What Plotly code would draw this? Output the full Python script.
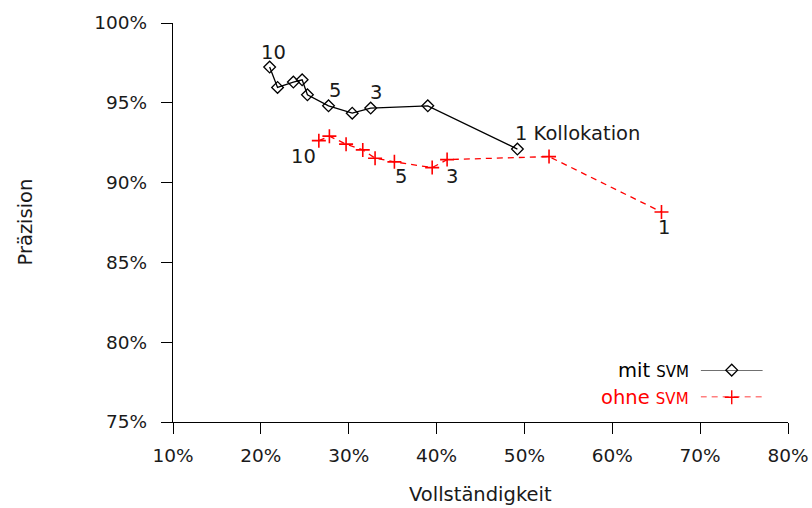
import plotly.graph_objects as go

# Vollständigkeit (recall, %) and Präzision (precision, %) per threshold 10..1
mit_svm_recall = [21.0, 21.9, 23.7, 24.7, 25.3, 27.7, 30.4, 32.5, 39.0, 49.2]
mit_svm_precision = [97.24, 95.96, 96.30, 96.44, 95.50, 94.81, 94.35, 94.67, 94.81, 92.10]

ohne_svm_recall = [26.6, 27.8, 29.7, 31.6, 33.0, 35.2, 39.5, 41.2, 52.8, 65.6]
ohne_svm_precision = [92.63, 92.91, 92.41, 92.05, 91.53, 91.30, 90.94, 91.44, 91.63, 88.16]

# point labels: (index into series, text)
mit_svm_labels = [(0, "10"), (5, "5"), (7, "3"), (9, "1 Kollokation")]
ohne_svm_labels = [(0, "10"), (5, "5"), (7, "3"), (9, "1")]

x_ticks = [10, 20, 30, 40, 50, 60, 70, 80]
y_ticks = [75, 80, 85, 90, 95, 100]

FONT = "DejaVu Sans"
FS_TICK = 18.5
FS = 19.5
TXT = "#1a1a1a"
RED = "#ff0000"
SVM = '<span style="font-size:15px">SVM</span>'

fig = go.Figure()

fig.add_trace(go.Scatter(
    x=mit_svm_recall, y=mit_svm_precision, mode="lines+markers",
    line=dict(color="black", width=1.3),
    marker=dict(symbol="diamond-open", size=9, color="black", line=dict(width=1.3)),
    showlegend=False, cliponaxis=False,
))
fig.add_trace(go.Scatter(
    x=ohne_svm_recall, y=ohne_svm_precision, mode="lines+markers",
    line=dict(color=RED, width=1.3, dash="6px,5px"),
    marker=dict(symbol="cross-thin", size=10, color=RED, line=dict(width=1.6, color=RED)),
    showlegend=False, cliponaxis=False,
))

annotations = []
# labels above the black series
black_offsets = {0: (4, 15, "center"), 5: (6, 15, "center"), 7: (5, 16, "center"), 9: (-4, 16, "left")}
for i, t in mit_svm_labels:
    dx, dy, anchor = black_offsets[i]
    annotations.append(dict(
        x=mit_svm_recall[i], y=mit_svm_precision[i], xref="x", yref="y", text=t,
        showarrow=False, xanchor=anchor, yanchor="middle", xshift=dx, yshift=dy,
        font=dict(family=FONT, size=FS, color=TXT),
    ))
# labels below the red series
red_offsets = {0: (-15, -16), 5: (7, -15), 7: (5, -17), 9: (3, -16)}
for i, t in ohne_svm_labels:
    dx, dy = red_offsets[i]
    annotations.append(dict(
        x=ohne_svm_recall[i], y=ohne_svm_precision[i], xref="x", yref="y", text=t,
        showarrow=False, xanchor="center", yanchor="middle", xshift=dx, yshift=dy,
        font=dict(family=FONT, size=FS, color=TXT),
    ))

# legend drawn on a small auxiliary axis: text on the left, sample on the right
legend_rows = [("mit " + SVM, "black", "solid", "diamond-open", 9, 1.0),
               ("ohne " + SVM, RED, "6px,5px", "cross-thin", 10, 0.0)]
for text, color, dash, symbol, msize, row in legend_rows:
    fig.add_trace(go.Scatter(
        x=[0, 0.5, 1], y=[row] * 3, xaxis="x2", yaxis="y2", mode="lines",
        line=dict(color=color, width=1.3, dash=dash), showlegend=False,
        hoverinfo="skip", cliponaxis=False,
    ))
    fig.add_trace(go.Scatter(
        x=[0.5], y=[row], xaxis="x2", yaxis="y2", mode="markers",
        marker=dict(symbol=symbol, size=msize, color=color, line=dict(width=1.4, color=color)),
        showlegend=False, hoverinfo="skip", cliponaxis=False,
    ))
    annotations.append(dict(
        x=0, y=row, xref="x2", yref="y2", text=text, showarrow=False,
        xanchor="right", yanchor="middle", xshift=-10,
        font=dict(family=FONT, size=FS, color=color),
    ))

# axis titles
annotations.append(dict(
    x=0.5, y=0, xref="paper", yref="paper", text="Vollständigkeit", showarrow=False,
    xanchor="center", yanchor="middle", yshift=-72, font=dict(family=FONT, size=FS, color=TXT),
))
annotations.append(dict(
    x=0, y=0.5, xref="paper", yref="paper", text="Präzision", showarrow=False, textangle=-90,
    xanchor="center", yanchor="middle", xshift=-148, font=dict(family=FONT, size=FS, color=TXT),
))

fig.update_layout(
    width=812, height=508,
    margin=dict(l=173, r=24, t=23, b=86),
    paper_bgcolor="white", plot_bgcolor="white",
    font=dict(family=FONT, size=FS, color=TXT),
    annotations=annotations,
    xaxis=dict(
        range=[10, 80], tickvals=x_ticks, ticktext=[f"{v}%" for v in x_ticks],
        showgrid=False, zeroline=False, showline=True, linecolor="black", linewidth=1.3,
        ticks="outside", ticklen=11, tickwidth=1.3, tickcolor="black", automargin=False,
        ticklabelstandoff=6, tickfont=dict(family=FONT, size=FS_TICK, color=TXT),
    ),
    yaxis=dict(
        range=[75, 100], tickvals=y_ticks, ticktext=[f"{v}%" for v in y_ticks],
        showgrid=False, zeroline=False, showline=True, linecolor="black", linewidth=1.3,
        ticks="outside", ticklen=11, tickwidth=1.3, tickcolor="black", automargin=False,
        ticklabelstandoff=10, tickfont=dict(family=FONT, size=FS_TICK, color=TXT),
    ),
    xaxis2=dict(domain=[0.858, 0.959], range=[0, 1], visible=False, anchor="y2",
                fixedrange=True, automargin=False),
    yaxis2=dict(domain=[0.062, 0.130], range=[0, 1], visible=False, anchor="x2",
                fixedrange=True, automargin=False),
)

fig.write_html("out.html")
